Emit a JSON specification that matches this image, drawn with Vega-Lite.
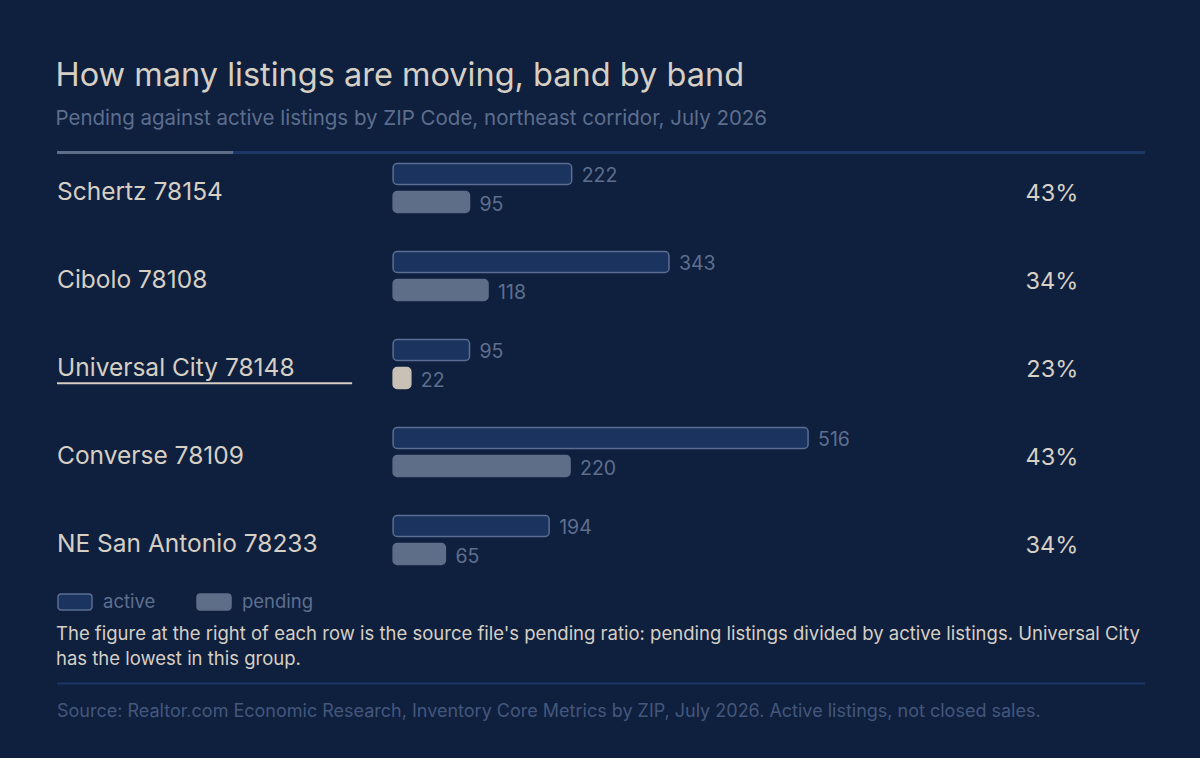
{
  "$schema": "https://vega.github.io/schema/vega-lite/v6.json",
  "background": "#0f1f3e",
  "padding": {"left": 55, "right": 57, "top": 60, "bottom": 18},
  "bounds": "flush",
  "spacing": 99.5,
  "title": {
    "text": "How many listings are moving, band by band",
    "subtitle": "Pending against active listings by ZIP Code, northeast corridor, July 2026",
    "anchor": "start",
    "font": "Inter",
    "fontSize": 32.5,
    "fontWeight": "normal",
    "color": "#d6cfc4",
    "subtitleFont": "Inter",
    "subtitleFontSize": 20.5,
    "subtitleColor": "#5d6e8d",
    "subtitlePadding": 16,
    "offset": 15
  },
  "datasets": {
    "bands": [
      {"zip": "Schertz 78154", "series": "active", "count": 222, "ratio": 0.43, "highlight": false},
      {"zip": "Schertz 78154", "series": "pending", "count": 95, "ratio": 0.43, "highlight": false},
      {"zip": "Cibolo 78108", "series": "active", "count": 343, "ratio": 0.34, "highlight": false},
      {"zip": "Cibolo 78108", "series": "pending", "count": 118, "ratio": 0.34, "highlight": false},
      {"zip": "Universal City 78148", "series": "active", "count": 95, "ratio": 0.23, "highlight": false},
      {"zip": "Universal City 78148", "series": "pending", "count": 22, "ratio": 0.23, "highlight": true},
      {"zip": "Converse 78109", "series": "active", "count": 516, "ratio": 0.43, "highlight": false},
      {"zip": "Converse 78109", "series": "pending", "count": 220, "ratio": 0.43, "highlight": false},
      {"zip": "NE San Antonio 78233", "series": "active", "count": 194, "ratio": 0.34, "highlight": false},
      {"zip": "NE San Antonio 78233", "series": "pending", "count": 65, "ratio": 0.34, "highlight": false}
    ],
    "source": [
      {"text": "Source: Realtor.com Economic Research, Inventory Core Metrics by ZIP, July 2026. Active listings, not closed sales."}
    ]
  },
  "vconcat": [
    {
      "width": 1088,
      "height": 440,
      "data": {"name": "bands"},
      "encoding": {
        "y": {
          "field": "zip",
          "type": "nominal",
          "sort": null,
          "scale": {
            "domain": ["Schertz 78154", "Cibolo 78108", "Universal City 78148", "Converse 78109", "NE San Antonio 78233"],
            "paddingInner": 0,
            "paddingOuter": 0
          },
          "axis": null
        },
        "x": {
          "field": "count",
          "type": "quantitative",
          "stack": null,
          "scale": {"domain": [-418, 935], "nice": false, "zero": false},
          "axis": null
        }
      },
      "layer": [
        {
          "transform": [{"filter": "datum.zip === 'Schertz 78154' && datum.series === 'active'"}],
          "mark": {"type": "rule", "color": "#1c3766", "strokeWidth": 3},
          "encoding": {
            "x": {"datum": -418, "type": "quantitative"},
            "x2": {"datum": 935},
            "y": {"field": "zip", "type": "nominal", "bandPosition": 0.097, "axis": null}
          }
        },
        {
          "transform": [{"filter": "datum.zip === 'Schertz 78154' && datum.series === 'active'"}],
          "mark": {"type": "rule", "color": "#5f6e88", "strokeWidth": 3},
          "encoding": {
            "x": {"datum": -418, "type": "quantitative"},
            "x2": {"datum": -199},
            "y": {"field": "zip", "type": "nominal", "bandPosition": 0.097, "axis": null}
          }
        },
        {
          "mark": {"type": "bar", "cornerRadius": 4, "strokeWidth": 1.5},
          "encoding": {
            "yOffset": {
              "field": "series",
              "type": "nominal",
              "scale": {"domain": ["active", "pending"], "paddingInner": 0.25, "paddingOuter": 0.696}
            },
            "x2": {"datum": 0},
            "color": {
              "condition": {"test": "datum.highlight", "value": "#c9c1b5"},
              "field": "series",
              "type": "nominal",
              "scale": {"domain": ["active", "pending"], "range": ["#1b335f", "#5f6e88"]},
              "legend": {
                "title": null,
                "orient": "bottom",
                "direction": "horizontal",
                "offset": 0,
                "padding": 0,
                "symbolType": "M-0.8,-0.47L0.8,-0.47Q1,-0.47,1,-0.27L1,0.27Q1,0.47,0.8,0.47L-0.8,0.47Q-1,0.47,-1,0.27L-1,-0.27Q-1,-0.47,-0.8,-0.47Z",
                "symbolSize": 1156,
                "symbolStrokeWidth": 1.5,
                "symbolOpacity": 1,
                "labelFont": "Inter",
                "labelFontSize": 18.5,
                "labelColor": "#5e6f8e",
                "labelOffset": 10,
                "columnPadding": 38
              }
            },
            "stroke": {
              "condition": {"test": "datum.highlight", "value": "#c9c1b5"},
              "field": "series",
              "type": "nominal",
              "scale": {"domain": ["active", "pending"], "range": ["#5b6d93", "#5f6e88"]},
              "legend": {
                "title": null,
                "orient": "bottom",
                "direction": "horizontal",
                "offset": 0,
                "padding": 0,
                "symbolType": "M-0.8,-0.47L0.8,-0.47Q1,-0.47,1,-0.27L1,0.27Q1,0.47,0.8,0.47L-0.8,0.47Q-1,0.47,-1,0.27L-1,-0.27Q-1,-0.47,-0.8,-0.47Z",
                "symbolSize": 1156,
                "symbolStrokeWidth": 1.5,
                "symbolOpacity": 1,
                "labelFont": "Inter",
                "labelFontSize": 18.5,
                "labelColor": "#5e6f8e",
                "labelOffset": 10,
                "columnPadding": 38
              }
            }
          }
        },
        {
          "mark": {"type": "text", "align": "left", "baseline": "middle", "dx": 10, "dy": 2.5, "font": "Inter", "fontSize": 19.5, "color": "#5e6f8e"},
          "encoding": {
            "yOffset": {"field": "series", "type": "nominal"},
            "text": {"field": "count", "type": "quantitative"}
          }
        },
        {
          "transform": [{"filter": "datum.series === 'active'"}],
          "mark": {"type": "text", "align": "left", "baseline": "middle", "dy": 5, "font": "Inter", "fontSize": 24.5, "color": "#d6cfc4"},
          "encoding": {
            "x": {"datum": -418, "type": "quantitative"},
            "text": {"field": "zip", "type": "nominal"}
          }
        },
        {
          "transform": [{"filter": "datum.series === 'active'"}],
          "mark": {"type": "text", "align": "right", "baseline": "middle", "dy": 5.5, "font": "Inter", "fontSize": 23.5, "color": "#d6cfc4"},
          "encoding": {
            "x": {"datum": 852, "type": "quantitative"},
            "text": {"field": "ratio", "type": "quantitative", "format": ".0%"}
          }
        },
        {
          "transform": [{"filter": "datum.highlight"}],
          "mark": {"type": "rule", "color": "#d6cfc4", "strokeWidth": 2},
          "encoding": {
            "x": {"datum": -418, "type": "quantitative"},
            "x2": {"datum": -51},
            "y": {"field": "zip", "type": "nominal", "bandPosition": 0.72, "axis": null}
          }
        }
      ]
    },
    {
      "width": 1088,
      "height": 56,
      "data": {"name": "source"},
      "title": {
        "text": [
          "The figure at the right of each row is the source file's pending ratio: pending listings divided by active listings. Universal City",
          "has the lowest in this group."
        ],
        "anchor": "start",
        "font": "Inter",
        "fontSize": 18.5,
        "fontWeight": "normal",
        "color": "#d6cfc4",
        "lineHeight": 25,
        "offset": 14
      },
      "layer": [
        {
          "mark": {"type": "rule", "color": "#1c3766", "strokeWidth": 2},
          "encoding": {
            "x": {"datum": 0, "type": "quantitative", "scale": {"domain": [0, 1]}, "axis": null},
            "x2": {"datum": 1},
            "y": {"datum": 0, "type": "quantitative", "scale": {"domain": [0, 1], "reverse": true}, "axis": null}
          }
        },
        {
          "mark": {"type": "text", "align": "left", "baseline": "middle", "font": "Inter", "fontSize": 18, "color": "#44577b"},
          "encoding": {
            "x": {"datum": 0, "type": "quantitative"},
            "y": {"datum": 0.5, "type": "quantitative"},
            "text": {"field": "text"}
          }
        }
      ]
    }
  ],
  "resolve": {
    "scale": {"x": "independent", "y": "independent", "color": "independent", "stroke": "independent"},
    "legend": {"color": "independent", "stroke": "independent"}
  },
  "config": {
    "view": {"stroke": null},
    "font": "Inter",
    "legend": {"layout": {"bottom": {"anchor": "start"}}}
  }
}
